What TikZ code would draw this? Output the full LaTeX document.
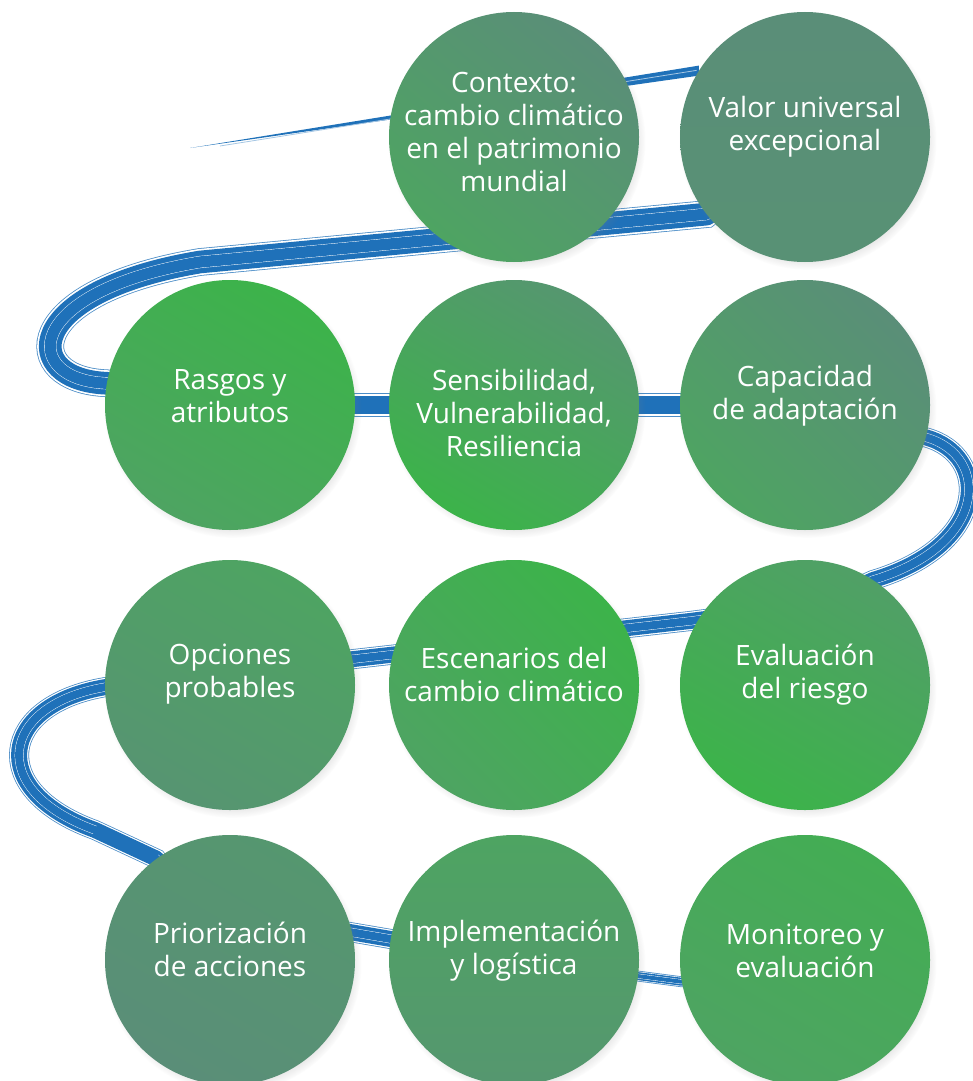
\documentclass[tikz,border=0pt]{standalone}
\usepackage{fontspec}
\setmainfont{Open Sans}
\usetikzlibrary{shadows,calc}

\definecolor{strokeblue}{RGB}{31,113,185}
\definecolor{leafgreen}{RGB}{60,179,74}
\definecolor{fieldgreen}{RGB}{78,164,98}
\definecolor{sagegreen}{RGB}{90,142,120}

\pgfdeclarelayer{bg}
\pgfsetlayers{bg,main}

\tikzset{
  stage/.style n args={3}{circle, minimum size=187.5pt, inner sep=0pt,
    top color=#1, bottom color=#2, shading angle=#3,
    circular drop shadow={shadow xshift=2pt, shadow yshift=-3pt, shadow scale=1.03, opacity=.35}},
  txt/.style={text=white, align=center, font=\fontsize{21}{24.75}\selectfont},
  brush/.style={draw=strokeblue, line width=#1, line join=round,
    preaction={draw=strokeblue!80, line width=.6pt, double=white, double distance=1.15*#1},
    postaction={draw=white, line width=.3pt, double=strokeblue, double distance=.5*#1}},
}

\begin{document}
\begin{tikzpicture}[x=0.75pt, y=-0.75pt]
    \useasboundingbox (0,0) rectangle (972,1081);

    % the eleven steps
    \node[stage={sagegreen}{fieldgreen}{-40}, label={[txt,yshift=4pt]center:{Contexto:\\cambio climático\\en el patrimonio\\mundial}}] (contexto) at (514,137) {};
    \node[stage={sagegreen}{sagegreen!85!fieldgreen}{0}, label={[txt,yshift=8pt]center:{Valor universal\\excepcional}}] (valor) at (805,137) {};
    \node[stage={leafgreen}{fieldgreen}{-30}, label={[txt,yshift=7pt]center:{Rasgos y\\atributos}}] (rasgos) at (230,405) {};
    \node[stage={sagegreen!60!fieldgreen}{leafgreen}{-30}, label={[txt,yshift=-6pt]center:{Sensibilidad,\\Vulnerabilidad,\\Resiliencia}}] (sensibilidad) at (514,405) {};
    \node[stage={sagegreen}{fieldgreen}{-45}, label={[txt,yshift=7pt]center:{Capacidad\\de adaptación}}] (capacidad) at (805,405) {};
    \node[stage={fieldgreen}{sagegreen!70!fieldgreen}{-30}, label={[txt,yshift=8pt]center:{Opciones\\probables}}] (opciones) at (230,685) {};
    \node[stage={leafgreen}{fieldgreen}{-45}, label={[txt,yshift=8pt]center:{Escenarios del\\cambio climático}}] (escenarios) at (514,685) {};
    \node[stage={fieldgreen!80!sagegreen}{leafgreen}{-30}, label={[txt,yshift=8pt]center:{Evaluación\\del riesgo}}] (evaluacion) at (805,685) {};
    \node[stage={fieldgreen!40!sagegreen}{sagegreen}{-30}, label={[txt,yshift=8pt]center:{Priorización\\de acciones}}] (priorizacion) at (230,960) {};
    \node[stage={fieldgreen}{sagegreen!60!fieldgreen}{0}, label={[txt,yshift=7pt]center:{Implementación\\y logística}}] (implementacion) at (514,960) {};
    \node[stage={leafgreen!60!fieldgreen}{fieldgreen}{-30}, label={[txt,yshift=7pt]center:{Monitoreo y\\evaluación}}] (monitoreo) at (805,960) {};

    % the blue brush line behind them
    \begin{pgfonlayer}{bg}
        \coordinate (start) at (190,148);
        \fill[strokeblue] (start) -- ($(valor.148)+(0,-5)$) -- ($(valor.148)+(0,5)$) -- cycle;
        \draw[strokeblue!40, line width=.6pt] ($(start)+(30,-2)$) -- ($(valor.150)+(0,-4)$);
        \draw[brush=17pt] (valor.center) -- (valor.218) -- (200,262) .. controls (20,292) and (20,380) .. (rasgos.170) -- (rasgos.center);
        \draw[brush=14pt] (rasgos.center) -- (capacidad.center);
        \draw[brush=12pt] (capacidad.center) -- (capacidad.-15) .. controls (990,455) and (990,545) .. (evaluacion.57)
            .. controls (820,605) and (760,612) .. (690,621) -- (opciones.181)
            .. controls (0,705) and (-15,790) .. (95,830) -- (priorizacion.126) -- (priorizacion.center);
        \draw[strokeblue, line width=11pt] (95,830) -- (priorizacion.126);
        \draw[brush=12pt] (priorizacion.center) -- (250,915) -- (implementacion.center);
        \draw[brush=6pt] (implementacion.center) -- (monitoreo.190) -- (monitoreo.center);
    \end{pgfonlayer}
\end{tikzpicture}
\end{document}
